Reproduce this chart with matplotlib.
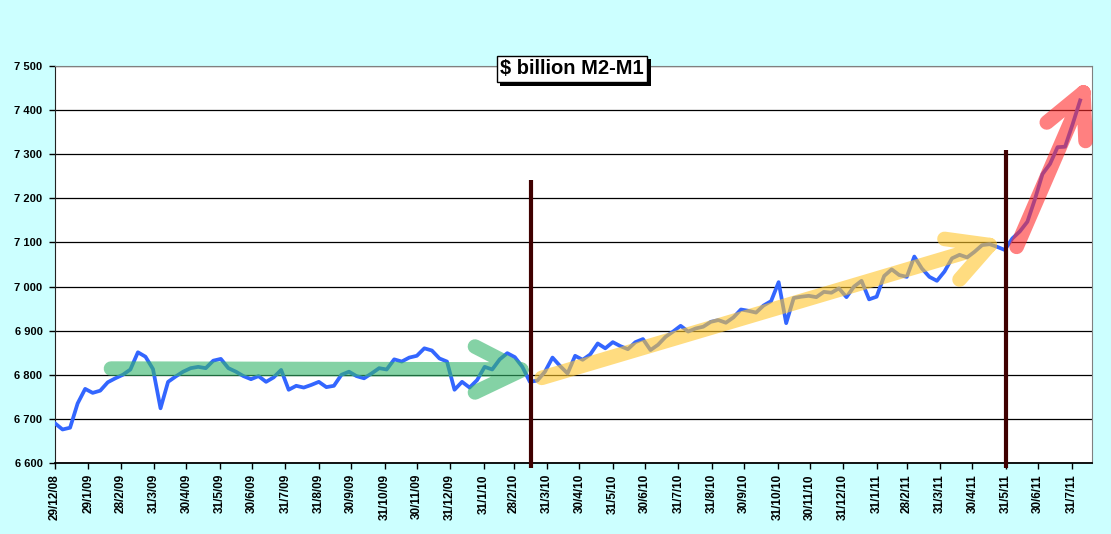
import numpy as np
import pandas as pd
import matplotlib
matplotlib.use('Agg')
import matplotlib.pyplot as plt
import matplotlib.dates as mdates
import matplotlib.patheffects as pe
from matplotlib.path import Path
from matplotlib.patches import PathPatch
from datetime import datetime

plt.rcParams['font.family'] = ['Liberation Sans', 'DejaVu Sans']

# weekly M2-M1, $ billion, first week 29/12/08
start = datetime(2008, 12, 29)
m2_m1 = [6690, 6676, 6680, 6735, 6768, 6759, 6764, 6783, 6792, 6800,
         6812, 6851, 6841, 6813, 6724, 6784, 6796, 6807, 6815, 6818,
         6815, 6832, 6836, 6815, 6807, 6797, 6790, 6797, 6784, 6794,
         6811, 6766, 6775, 6771, 6777, 6784, 6772, 6775, 6800, 6807,
         6797, 6792, 6803, 6815, 6812, 6835, 6830, 6839, 6843, 6860,
         6855, 6837, 6830, 6766, 6784, 6771, 6788, 6818, 6812, 6835,
         6849, 6840, 6818, 6784, 6787, 6807, 6839, 6820, 6803, 6843,
         6834, 6846, 6871, 6860, 6874, 6865, 6858, 6874, 6881, 6856,
         6868, 6886, 6898, 6911, 6898, 6905, 6909, 6920, 6924, 6918,
         6930, 6948, 6945, 6941, 6957, 6967, 7010, 6917, 6974, 6977,
         6979, 6976, 6988, 6986, 6996, 6976, 7000, 7013, 6971, 6977,
         7024, 7039, 7026, 7022, 7068, 7041, 7022, 7013, 7034, 7064,
         7072, 7066, 7079, 7094, 7096, 7090, 7083, 7109, 7125, 7147,
         7198, 7255, 7278, 7316, 7317, 7368, 7422]
weeks = pd.date_range(start, periods=len(m2_m1), freq='7D')

tick_labels = ['29/12/08', '29/1/09', '28/2/09', '31/3/09', '30/4/09', '31/5/09',
               '30/6/09', '31/7/09', '31/8/09', '30/9/09', '31/10/09', '30/11/09',
               '31/12/09', '31/1/10', '28/2/10', '31/3/10', '30/4/10', '31/5/10',
               '30/6/10', '31/7/10', '31/8/10', '30/9/10', '31/10/10', '30/11/10',
               '31/12/10', '31/1/11', '28/2/11', '31/3/11', '30/4/11', '31/5/11',
               '30/6/11', '31/7/11']
tick_dates = [datetime.strptime(s, '%d/%m/%y') for s in tick_labels]

# annotation arrows: (days after start, value)
green_arrow = [[(52, 6814), (433, 6812)], [(390, 6864), (433, 6810), (390, 6760)]]
yellow_arrow = [[(452, 6793), (868, 7094)], [(826, 7108), (868, 7094), (840, 7016)]]
red_arrow = [[(893, 7090), (955, 7440)], [(921, 7372), (955, 7440), (957, 7330)]]
# vertical markers: (day, top value)
markers = [(442, 7241), (883, 7309)]

x0 = mdates.date2num(start)

fig = plt.figure(figsize=(11.11, 5.34), dpi=100, facecolor='#CCFFFF')
ax = fig.add_axes([55/1111, 71/534, 1037/1111, 397/534])
ax.set_facecolor('white')

ax.plot(weeks, m2_m1, color='#3366FF', lw=2.7, zorder=3, solid_joinstyle='round')

ax.set_ylim(6600, 7500)
ax.set_xlim(x0, x0 + 963)
ax.set_yticks(np.arange(6600, 7501, 100))
ax.set_yticklabels([f'{v:,}'.replace(',', ' ') for v in range(6600, 7501, 100)])
ax.yaxis.grid(True, color='black', lw=0.9)
ax.set_axisbelow(True)

ax.set_xticks(mdates.date2num(tick_dates))
ax.set_xticklabels(tick_labels, rotation=90, va='top', ha='center')

for lab in ax.get_xticklabels() + ax.get_yticklabels():
    lab.set_fontweight('bold')
ax.tick_params(axis='x', labelsize=8.5, length=4, width=1, pad=4, direction='out')
ax.tick_params(axis='y', labelsize=8, length=4, width=1, pad=5, direction='out')

for s in ['top', 'right']:
    ax.spines[s].set_color('#808080')
ax.spines['left'].set_color('#222222')
ax.spines['bottom'].set_color('black')
ax.spines['bottom'].set_linewidth(1.3)


def draw_arrow(parts, color):
    verts, codes = [], []
    for part in parts:
        for k, (d, v) in enumerate(part):
            verts.append((x0 + d, v))
            codes.append(Path.MOVETO if k == 0 else Path.LINETO)
    patch = PathPatch(Path(verts, codes), fill=False, edgecolor=color, lw=10.5,
                      alpha=0.6, capstyle='round', joinstyle='round',
                      zorder=5, clip_on=False)
    ax.add_patch(patch)


draw_arrow(green_arrow, '#33B56A')
draw_arrow(yellow_arrow, '#FFC62B')
draw_arrow(red_arrow, '#FF2B2B')

for d, top in markers:
    ax.plot([x0 + d, x0 + d], [6588, top], color='#3F0000', lw=3, zorder=6,
            clip_on=False, solid_capstyle='butt')

t = fig.text(572/1111, 1 - 69/534, '$ billion M2-M1', fontsize=14.5, fontweight='bold',
             ha='center', va='center', zorder=10,
             bbox=dict(boxstyle='square,pad=0.18', fc='white', ec='black', lw=1))
t.get_bbox_patch().set_path_effects([pe.withSimplePatchShadow(offset=(2.5, -2.5),
                                     shadow_rgbFace='black', alpha=1.0)])

fig.savefig('out.png', dpi=100, facecolor=fig.get_facecolor())
